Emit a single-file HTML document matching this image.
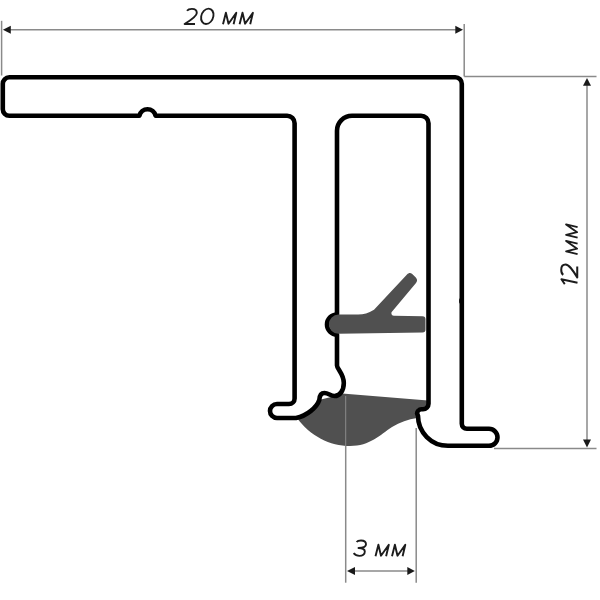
<!DOCTYPE html>
<html>
<head>
<meta charset="utf-8">
<style>
html,body{margin:0;padding:0;background:#fff;width:600px;height:600px;overflow:hidden;}
svg{display:block;}
text{font-family:"Liberation Sans", sans-serif;font-style:italic;fill:#222;}
</style>
</head>
<body>
<svg width="600" height="600" viewBox="0 0 600 600">
<rect width="600" height="600" fill="#fff"/>
<!-- bottom grey blob -->
<path fill="#505050" d="M 336 393 L 428 400.5 L 428 406 L 417 409 L 417 418 C 408 419.5, 400 422, 392 427 C 380 435, 370 446, 350 446 C 330 446, 310 436, 297 418 L 310 410 L 319 400 L 335 396 Z"/>
<!-- thin line inside blob -->
<line x1="345.7" y1="396" x2="345.7" y2="446" stroke="#8a8a8a" stroke-width="1"/>

<!-- profile outline -->
<path fill="none" stroke="#000" stroke-width="4.6" stroke-linejoin="round" d="
M 2.8 84
A 6.5 6.5 0 0 1 9.3 77.3
L 455.3 77.3
A 6.5 6.5 0 0 1 461.8 83.8
L 461.8 423.8
A 5 5 0 0 0 466.8 428.8
L 489 428.8
A 8.5 8.5 0 0 1 489 445.8
L 448 445.8
A 30 30 0 0 1 418 415.8
L 417.1 413.5
A 4.2 4.2 0 0 1 421.3 409.3
L 423 409.3
A 5.5 5.5 0 0 0 428.5 403.8
L 428.5 123.3
A 7.5 7.5 0 0 0 421 115.8
L 352 115.8
A 15 15 0 0 0 337 130.8
L 337 314.5
A 10 10 0 0 0 337 334.5
L 337 365.5
C 337 369, 343.8 374, 343.8 383
C 343.8 391, 339.5 396, 334.5 396
C 330.5 396, 328.5 393, 324.5 393
C 321 393, 319.5 396, 319.3 400
C 317 407, 307 416, 296 418
L 277 418
A 7 7 0 0 1 277 404
L 289 404
A 5.6 5.6 0 0 0 294.6 398.4
L 294.6 123.3
A 7.5 7.5 0 0 0 287.1 115.8
L 155.6 115.8
A 8.3 8.3 0 0 0 139.4 115.8
L 9.3 115.8
A 6.5 6.5 0 0 1 2.8 109.3
Z"/>
<!-- small bump on outer wall -->
<ellipse cx="460.4" cy="301" rx="1.3" ry="3" fill="#000"/>

<!-- wiper seal -->
<path fill="#505050" d="M 338.5 314.6 L 358 314.6 C 364 314.6, 368 313, 374 309.7 L 407 274.5 C 409 272.5, 410.5 272.5, 412.5 274.3 L 415.8 277.5 C 417.5 279.5, 417.5 281, 416 283 L 391.5 312.3 C 391 314, 392 315.8, 394 315.8 L 422.5 316.3 C 424.5 316.3, 425.5 317.5, 425.5 319.5 L 425.5 329.5 C 425.5 331.5, 424.5 332.5, 422.5 332.5 L 338.5 333.8 A 9.6 9.6 0 0 1 338.5 314.6 Z"/>

<!-- dimension lines -->
<g stroke="#8a8a8a" stroke-width="1.5" fill="none">
<line x1="1.6" y1="20.8" x2="1.6" y2="75.5"/>
<line x1="464.2" y1="24" x2="464.2" y2="76.6"/>
<line x1="464.2" y1="76.6" x2="596.5" y2="76.6"/>
<line x1="10" y1="29.8" x2="456" y2="29.8"/>
<line x1="587" y1="85" x2="587" y2="440"/>
<line x1="494" y1="448.5" x2="596.5" y2="448.5"/>
<line x1="345.7" y1="446" x2="345.7" y2="582.7"/>
<line x1="416.2" y1="428" x2="416.2" y2="582.7"/>
<line x1="354" y1="571" x2="408" y2="571"/>
</g>
<g fill="#1a1a1a">
<polygon points="2.9,29.7 10.8,25.7 10.8,33.7"/>
<polygon points="463,29.7 455.3,25.7 455.3,33.7"/>
<polygon points="587,78.1 583,85.7 591,85.7"/>
<polygon points="587,447.5 583,439.6 591,439.6"/>
<polygon points="347,571 355,567 355,575"/>
<polygon points="414.8,571 407.3,567 407.3,575"/>
</g>

<g fill="none" stroke="#1c1c1c" stroke-width="1.9" stroke-linejoin="round">
<path transform="translate(183.7,25)" d="M 3.3 -14.2 C 4.3 -15.6, 6 -16.1, 8.2 -16.1 C 11.3 -16.1, 13.1 -14.5, 13.1 -12 C 13.1 -9, 9 -6, 0.9 -1 L 11.3 -1"/>
<ellipse cx="0" cy="0" rx="6.1" ry="7.7" transform="translate(207.3,16.3) skewX(-9)"/>
<path transform="translate(222.5,24.6)" d="M 0.5 -0.4 L 3.4 -11.9 L 6 -0.9 L 13.8 -11.9 L 11.1 -0.4"/>
<path transform="translate(239.1,24.6)" d="M 0.5 -0.4 L 3.4 -11.9 L 6 -0.9 L 13.8 -11.9 L 11.1 -0.4"/>
<path d="M 356.6 542 C 357.5 540.8, 359 540.5, 361 540.5 C 364 540.5, 366 542, 366 544.3 C 366 546.5, 363.5 548, 358.5 548 C 363 548, 364.8 549.5, 364.8 551.6 C 364.9 554.3, 362.5 555.9, 359.5 555.9 C 357 555.9, 355 555, 353.6 553.2"/>
<path transform="translate(375,556.6)" d="M 0.5 -0.4 L 3.4 -11.9 L 6 -0.9 L 13.8 -11.9 L 11.1 -0.4"/>
<path transform="translate(391.5,556.6)" d="M 0.5 -0.4 L 3.4 -11.9 L 6 -0.9 L 13.8 -11.9 L 11.1 -0.4"/>
<g transform="translate(578,286) rotate(-90)">
<path d="M 1.9 -13.2 L 6.8 -16.6 L 3.2 -0.5"/>
<path transform="translate(7.6,0.3) scale(1.06)" d="M 3.3 -14.2 C 4.3 -15.6, 6 -16.1, 8.2 -16.1 C 11.3 -16.1, 13.1 -14.5, 13.1 -12 C 13.1 -9, 9 -6, 0.9 -1 L 11.3 -1"/>
<path transform="translate(31.3,0)" d="M 0.5 -0.4 L 3.4 -11.9 L 6 -0.9 L 13.8 -11.9 L 11.1 -0.4"/>
<path transform="translate(47.8,0)" d="M 0.5 -0.4 L 3.4 -11.9 L 6 -0.9 L 13.8 -11.9 L 11.1 -0.4"/>
</g>
</g>
</svg>
</body>
</html>
